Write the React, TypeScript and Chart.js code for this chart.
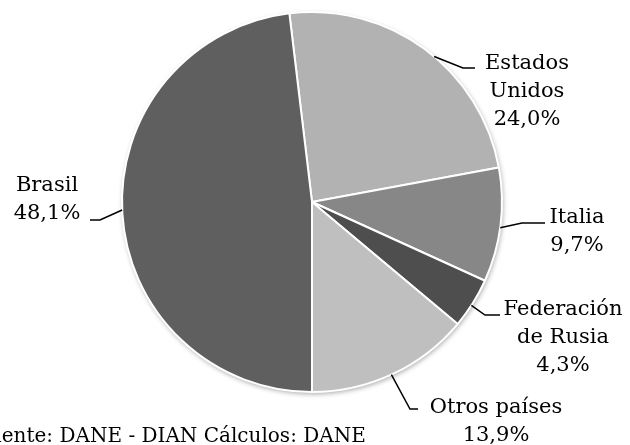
import React, { useEffect, useRef } from "react";
import { Chart, registerables } from "chart.js";

Chart.register(...registerables);

// ---- data ----
const categories = ["Estados Unidos", "Italia", "Federación de Rusia", "Otros países", "Brasil"];
const shares = [24.0, 9.7, 4.3, 13.9, 48.1];
const nameLines = [["Estados", "Unidos"], ["Italia"], ["Federación", "de Rusia"], ["Otros países"], ["Brasil"]];
const sourceNote = "Fuente: DANE - DIAN Cálculos: DANE";

// ---- style / layout ----
const sliceColors = ["#b2b2b2", "#878787", "#4e4e4e", "#bfbfbf", "#5f5f5f"];
const FONT = '21px "DejaVu Serif", serif';
const NOTE_FONT = '20px "DejaVu Serif", serif';
const LINE_H = 28;
// label layout: text center x, first baseline y, leader edge angle (deg clockwise from top), elbow, end
const labelLayout = [
  { cx: 527, by: 69, angle: 40, elbow: [463, 68], end: [475, 68] },
  { cx: 577, by: 223, angle: 97.8, elbow: [522, 223], end: [545, 223] },
  { cx: 563, by: 315, angle: 123, elbow: [485, 315], end: [500, 315] },
  { cx: 496, by: 413, angle: 155.3, elbow: [410, 409], end: [418, 409] },
  { cx: 47, by: 191, angle: 267.6, elbow: [100, 220], end: [90, 220] },
];

const fmtPct = (v: number) => v.toFixed(1).replace(".", ",") + "%";

const decorPlugin = {
  id: "decor",
  beforeDatasetsDraw(chart: any) {
    const meta = chart.getDatasetMeta(0);
    const arc: any = meta.data[0];
    if (!arc) return;
    const { x, y, outerRadius } = arc.getProps(["x", "y", "outerRadius"], true);
    const ctx = chart.ctx;
    ctx.save();
    ctx.shadowColor = "rgba(0,0,0,0.35)";
    ctx.shadowBlur = 5;
    ctx.shadowOffsetX = 1;
    ctx.shadowOffsetY = 2;
    ctx.fillStyle = "#ffffff";
    ctx.beginPath();
    ctx.arc(x, y, outerRadius, 0, Math.PI * 2);
    ctx.fill();
    ctx.restore();
  },
  afterDatasetsDraw(chart: any) {
    const meta = chart.getDatasetMeta(0);
    const ctx = chart.ctx;
    ctx.save();
    ctx.font = FONT;
    ctx.fillStyle = "#000";
    ctx.textAlign = "center";
    ctx.textBaseline = "alphabetic";
    meta.data.forEach((el: any, i: number) => {
      const { x, y, outerRadius } = el.getProps(["x", "y", "outerRadius"], true);
      const L = labelLayout[i];
      const a = (L.angle * Math.PI) / 180;
      const sx = x + outerRadius * Math.sin(a);
      const sy = y - outerRadius * Math.cos(a);
      ctx.strokeStyle = "#000";
      ctx.lineWidth = 1.5;
      ctx.beginPath();
      ctx.moveTo(sx, sy);
      ctx.lineTo(L.elbow[0], L.elbow[1]);
      ctx.lineTo(L.end[0], L.end[1]);
      ctx.stroke();
      const lines = [...nameLines[i], fmtPct(shares[i])];
      lines.forEach((t, k) => ctx.fillText(t, L.cx, L.by + k * LINE_H));
    });
    ctx.font = NOTE_FONT;
    ctx.textAlign = "left";
    ctx.fillText(sourceNote, -25, 442);
    ctx.restore();
  },
};

export default function App() {
  const ref = useRef<HTMLCanvasElement>(null);
  useEffect(() => {
    document.body.style.margin = "0";
    const chart = new Chart(ref.current as HTMLCanvasElement, {
      type: "pie",
      data: {
        labels: categories,
        datasets: [
          {
            data: shares,
            backgroundColor: sliceColors,
            borderColor: "#ffffff",
            borderWidth: 2,
          },
        ],
      },
      options: {
        responsive: false,
        animation: false,
        rotation: -((shares[0] + shares[1] + shares[2] + shares[3]) * 3.6 - 180),
        layout: { padding: { left: 121, right: 127, top: 11, bottom: 52 } },
        plugins: { legend: { display: false }, tooltip: { enabled: false } },
      },
      plugins: [decorPlugin],
    });
    return () => chart.destroy();
  }, []);
  return <canvas ref={ref} width={630} height={445} style={{ display: "block" }} />;
}
